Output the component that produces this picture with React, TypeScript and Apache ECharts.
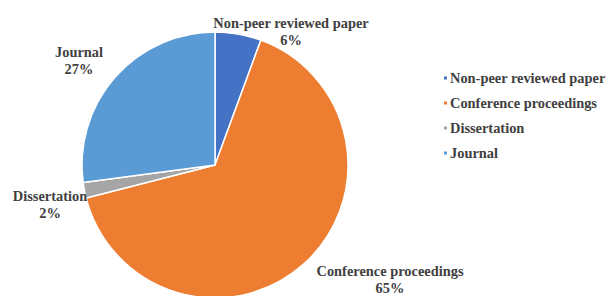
import React, { useEffect, useRef } from "react";
import * as echarts from "echarts";

const categories = ["Non-peer reviewed paper", "Conference proceedings", "Dissertation", "Journal"];
const values = [5.6, 65.4, 1.9, 27.1];
const colors = ["#4472C4", "#ED7D31", "#A5A5A5", "#5B9BD5"];
// label anchor positions (layout, px)
const labelPos: [number, number][] = [
  [291, 31],
  [390, 279],
  [50, 204],
  [79, 60],
];

export default function App() {
  const ref = useRef<HTMLDivElement>(null);
  useEffect(() => {
    const chart = echarts.init(ref.current!, null, { renderer: "svg" });
    const font = "'Times New Roman', 'Liberation Serif', serif";
    chart.setOption({
      animation: false,
      backgroundColor: "#ffffff",
      legend: {
        orient: "vertical",
        left: 437,
        top: 66,
        icon: "rect",
        itemWidth: 5,
        itemHeight: 5,
        itemGap: 11,
        data: categories,
        textStyle: { fontFamily: font, fontWeight: "bold", fontSize: 14.4, color: "#404040", padding: [0, 0, 0, -3] },
      },
      series: [
        {
          type: "pie",
          center: [215, 165],
          radius: 133,
          startAngle: 90,
          clockwise: true,
          percentPrecision: 0,
          itemStyle: { borderColor: "#ffffff", borderWidth: 1.5 },
          label: {
            show: true,
            position: "outside",
            formatter: "{b}\n{d}%",
            fontFamily: font,
            fontWeight: "bold",
            fontSize: 14.4,
            lineHeight: 17,
            color: "#404040",
            align: "center",
            overflow: "none",
            edgeDistance: 0,
          },
          labelLine: { show: false },
          labelLayout: (params: any) => {
            const p = labelPos[params.dataIndex];
            return { x: p[0], y: p[1], align: "center", verticalAlign: "middle" };
          },
          data: categories.map((c, i) => ({ name: c, value: values[i], itemStyle: { color: colors[i] } })),
        },
      ],
    });
    return () => chart.dispose();
  }, []);
  return <div ref={ref} style={{ position: "fixed", left: 0, top: 0, width: 611, height: 296 }} />;
}
